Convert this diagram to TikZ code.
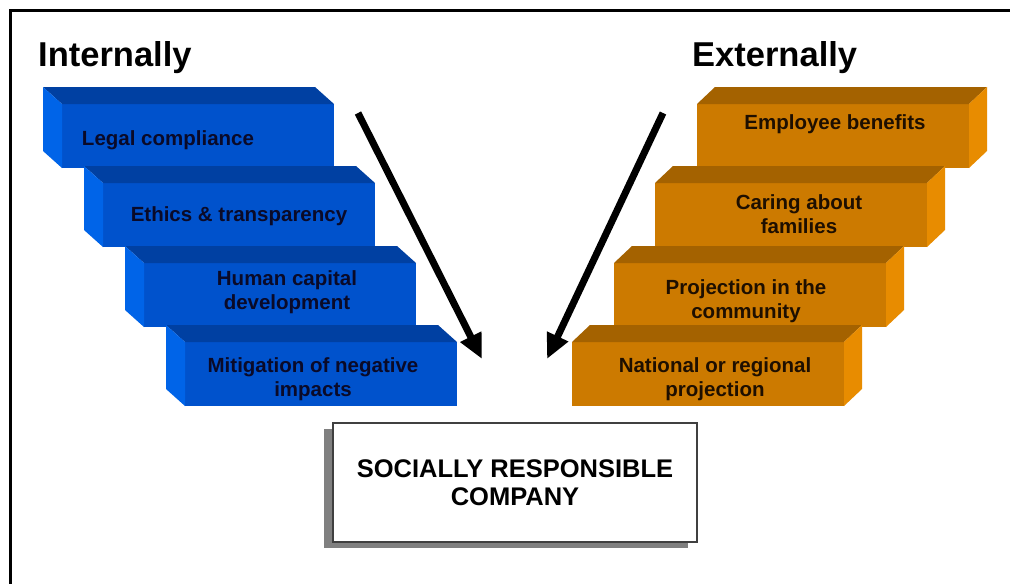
\documentclass[tikz,border=0pt]{standalone}
\usepackage{fontspec}
\setmainfont{Liberation Sans}
\usetikzlibrary{arrows.meta,shadows}
\definecolor{bfront}{HTML}{0052CC}
\definecolor{btop}{HTML}{0040A2}
\definecolor{bside}{HTML}{0064E8}
\definecolor{ofront}{HTML}{CC7A00}
\definecolor{otop}{HTML}{A46200}
\definecolor{oside}{HTML}{E88C00}
\definecolor{btxt}{HTML}{0A0A28}
\definecolor{otxt}{HTML}{1E0F00}
\tikzset{
  face/.style={rectangle, inner sep=0pt, outer sep=0pt, minimum width=272pt, minimum height=64pt, anchor=north west},
  blabel/.style={inner sep=0pt, text=btxt, align=center, font={\fontsize{20.5}{23.5}\selectfont\bfseries}},
  olabel/.style={inner sep=0pt, text=otxt, align=center, font={\fontsize{20.5}{23.5}\selectfont\bfseries}},
  title/.style={inner sep=0pt, anchor=base west, font={\fontsize{34.5}{36}\selectfont\bfseries}},
  bigarrow/.style={line width=7pt, -{Triangle[length=25pt,width=22pt]}},
  company/.style={draw=black!75, line width=1.3pt, fill=white, minimum width=364pt, minimum height=119pt, inner sep=0pt, align=center,
     font={\fontsize{25.5}{28}\selectfont\bfseries},
     drop shadow={shadow xshift=-9pt, shadow yshift=-6pt, fill=black!50, opacity=1}}
}
\newcommand\bblock[3]{%
  \node[face, fill=bfront] (#1) at (#2,#3) {};
  \fill[btop] (#1.north west) -- (#1.north east) -- ++(-19,-17) -- ([shift={(-19,-17)}]#1.north west) -- cycle;
  \fill[bside] (#1.north west) -- ++(-19,-17) -- ([shift={(-19,-17)}]#1.south west) -- (#1.south west) -- cycle;
}
\newcommand\oblock[3]{%
  \node[face, fill=ofront] (#1) at (#2,#3) {};
  \fill[otop] (#1.north west) -- (#1.north east) -- ++(18,-17) -- ([shift={(18,-17)}]#1.north west) -- cycle;
  \fill[oside] (#1.north east) -- ++(18,-17) -- ([shift={(18,-17)}]#1.south east) -- (#1.south east) -- cycle;
}
\begin{document}
\begin{tikzpicture}[x=1pt,y=-1pt]
\useasboundingbox (0,0) rectangle (1010,584);
\fill[white] (0,0) rectangle (1010,584);
% frame
\draw[line width=3pt] (10,584) -- (10,10) -- (1010,10);
% titles
\node[title] (tin) at (38,66) {Internally};
\node[title] (tex) at (692,66) {Externally};
% blue blocks
\bblock{b1}{62}{104}
\bblock{b2}{103}{183}
\bblock{b3}{144}{263}
\bblock{b4}{185}{342}
% orange blocks
\oblock{o1}{697}{104}
\oblock{o2}{655}{183}
\oblock{o3}{614}{263}
\oblock{o4}{572}{342}
% labels
\node[blabel, anchor=base] (l1) at (168,145) {Legal compliance};
\node[blabel, anchor=base] (l2) at (239,221) {Ethics \& transparency};
\node[blabel] (l3) at (287,292) {Human capital\\development};
\node[blabel] (l4) at (313,379) {Mitigation of negative\\impacts};
\node[olabel, anchor=base] (r1) at (835,129) {Employee benefits};
\node[olabel] (r2) at (799,214) {Caring about\\families};
\node[olabel] (r3) at (746,301) {Projection in the\\community};
\node[olabel] (r4) at (715,379) {National or regional\\projection};
% company box
\node[company] (src) at (515,482.5) {SOCIALLY RESPONSIBLE\\COMPANY};
% arrows
\coordinate (als) at (358,113);
\coordinate (ale) at (482,359);
\coordinate (ars) at (663,113);
\coordinate (are) at (547,359);
\draw[bigarrow] (als) -- (ale);
\draw[bigarrow] (ars) -- (are);
\end{tikzpicture}
\end{document}
